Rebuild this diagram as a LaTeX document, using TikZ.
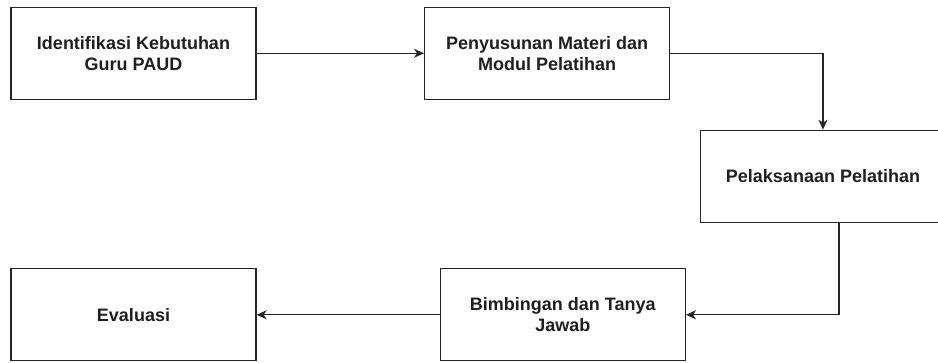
\documentclass[tikz,border=0pt]{standalone}
\usepackage{fontspec}
\setmainfont{Liberation Sans}
\usetikzlibrary{arrows.meta}
\begin{document}
\begin{tikzpicture}[x=1pt,y=1pt,
  box/.style={draw=black!85, line width=1.3pt, fill=white, minimum height=92pt,
    minimum width=245pt, align=center, inner sep=2pt,
    font=\fontsize{18}{21}\selectfont\bfseries, text=black!88},
  conn/.style={draw=black!85, line width=1.3pt, -{Stealth[length=10pt,width=9pt,inset=3pt]}}]
\useasboundingbox (0,0) rectangle (938,363);
\node[box] (b1) at (133.5,309.7) {Identifikasi Kebutuhan\\Guru PAUD};
\node[box] (b2) at (547.2,309.7) {Penyusunan Materi dan\\Modul Pelatihan};
\node[box] (b3) at (823,186.7) {Pelaksanaan Pelatihan};
\node[box] (b4) at (562.8,48.2) {Bimbingan dan Tanya\\Jawab};
\node[box] (b5) at (133.5,48.2) {Evaluasi};
\draw[conn] (b1) -- (b2);
\draw[conn] (b2.east) -| (b3.north);
\draw[conn] ([xshift=16pt]b3.south) |- (b4.east);
\draw[conn] (b4) -- (b5);
\end{tikzpicture}
\end{document}
